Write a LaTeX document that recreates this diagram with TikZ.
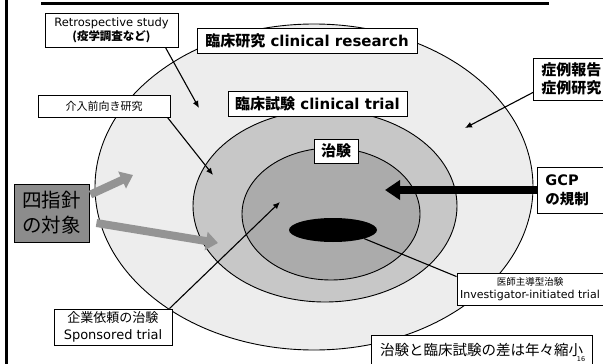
\documentclass[tikz,border=0pt]{standalone}
\usepackage{fontspec}
\setmainfont{DejaVu Sans}
\newfontfamily\cjk{Noto Sans CJK JP}
\usetikzlibrary{shapes.geometric,arrows.meta,calc}
\tikzset{
  lbl/.style={draw=black, line width=0.9pt, fill=white, inner sep=0pt, align=center},
  ring/.style={ellipse, draw=black, line width=0.9pt, inner sep=0pt},
  thinarrow/.style={line width=1.1pt, -{Latex[length=7pt,width=6pt]}},
  fatarrow/.style={line width=8pt, black!42, -{Triangle[length=12pt,width=18pt]}},
}
\begin{document}
\begin{tikzpicture}[x=1pt,y=-1pt]
\useasboundingbox (0,0) rectangle (603,364);
% frame lines
\draw[line width=2.5pt] (6.5,0) -- (6.5,364);
\draw[line width=2.5pt] (41,3.5) -- (549,3.5);
% rings
\node[ring, fill=black!7, minimum width=438pt, minimum height=326pt] (outer) at (314,187) {};
\node[ring, fill=black!22, minimum width=264pt, minimum height=192pt] (mid) at (325,206) {};
\node[ring, fill=black!33, minimum width=178pt, minimum height=132pt] (inner) at (331,214) {};
\node[ellipse, fill=black, minimum width=88pt, minimum height=24pt, inner sep=0pt] (core) at (333,230) {};
% labels
\node[lbl, minimum width=133pt, minimum height=34pt, font=\fontsize{11.5}{14}\selectfont] (retro) at (111.5,30)
  {Retrospective study\\{\cjk\bfseries (疫学調査など)}};
\node[lbl, minimum width=220pt, minimum height=25pt, font=\fontsize{15}{17}\selectfont\bfseries] (clinres) at (307,40.5)
  {{\cjk 臨床研究} clinical research};
\node[lbl, minimum width=179pt, minimum height=25pt, font=\fontsize{15}{17}\selectfont\bfseries] (cltrial) at (317.5,103.5)
  {{\cjk 臨床試験} clinical trial};
\node[lbl, minimum width=44pt, minimum height=24pt, font=\fontsize{15}{17}\selectfont\bfseries] (chiken) at (336,151)
  {\cjk 治験};
\node[lbl, minimum width=132pt, minimum height=22pt, font=\fontsize{11}{13}\selectfont] (kainyu) at (104,106)
  {\cjk 介入前向き研究};
\node[lbl, anchor=west, text width=62pt, inner xsep=8pt, minimum height=42pt, align=left,
      font=\fontsize{15}{18}\selectfont\bfseries] (shorei) at (533,79)
  {{\cjk 症例報告}\\{\cjk 症例研究}};
\node[lbl, anchor=west, text width=52pt, inner xsep=8pt, minimum height=46pt, align=left,
      font=\fontsize{14.5}{19}\selectfont\bfseries] (gcp) at (537,190)
  {GCP\\{\cjk の規制}};
\node[lbl, fill=black!45, minimum width=75pt, minimum height=58pt, font=\fontsize{19.5}{25}\selectfont] (shishi) at (51.5,213)
  {{\cjk 四指針}\\{\cjk の対象}};
\node[lbl, minimum width=118pt, minimum height=36pt, font=\fontsize{13}{17}\selectfont] (sponsor) at (113,327)
  {{\cjk 企業依頼の治験}\\Sponsored trial};
\node[lbl, minimum width=146pt, minimum height=32pt, font=\fontsize{11}{12.5}\selectfont] (invest) at (530,289)
  {{\cjk\fontsize{9.5}{12.5}\selectfont 医師主導型治験}\\Investigator-initiated trial};
\node[lbl, minimum width=221pt, minimum height=29pt, font=\fontsize{14.5}{16}\selectfont] (summary) at (481.5,349.5)
  {\cjk 治験と臨床試験の差は年々縮小};
\node[font=\fontsize{6.5}{7}\selectfont, inner sep=0pt] (pg) at (581,359) {16};
% connectors
\coordinate (tRetro) at (199,108);
\draw[thinarrow] ($(retro.south east)+(-13,0)$) -- (tRetro);
\coordinate (tKain) at (213,175);
\draw[thinarrow] ($(kainyu.south east)+(-3,0)$) -- (tKain);
\coordinate (tShorei) at (465,128);
\draw[thinarrow] ($(shorei.south west)+(0,-8)$) -- (tShorei);
\coordinate (tSpons) at (280,202);
\draw[thinarrow] ($(sponsor.north east)+(-3,0)$) -- (tSpons);
\draw[line width=1.1pt] (core.south east) -- ($(invest.north west)+(0,4)$);
\coordinate (tGcp) at (385,190);
\draw[line width=8pt, -{Triangle[length=15pt,width=19pt]}] (gcp.west) -- (tGcp);
\coordinate (g1) at (133,175);
\draw[fatarrow] ($(shishi.north east)+(1,11)$) -- (g1);
\coordinate (g2) at (218,243);
\draw[fatarrow] ($(shishi.east)+(7,10)$) -- (g2);
\end{tikzpicture}
\end{document}
